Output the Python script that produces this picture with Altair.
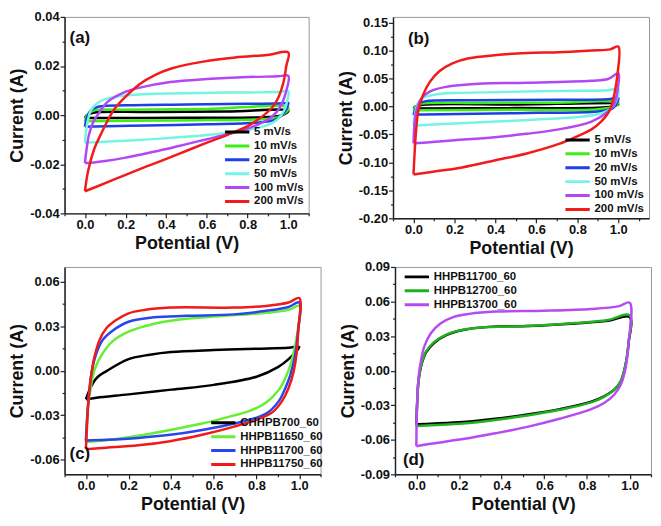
import altair as alt
import pandas as pd

FONT = "Liberation Sans"

# ---------------- Panel (a) ----------------
A_NAMES = ["5 mV/s", "10 mV/s", "20 mV/s", "50 mV/s", "100 mV/s", "200 mV/s"]
A_COLORS = ["#000000", "#3cee14", "#1e3ee8", "#74f4e4", "#b447f4", "#f21a1a"]
A_5 = [(0.0, -0.0012), (0.01, 0.0), (0.04, 0.001), (0.3, 0.0013), (0.7, 0.0015), (1.0, 0.0018),
       (0.97, 0.0), (0.9, -0.0008), (0.5, -0.0011), (0.0, -0.0012)]
A_10 = [(0.0, -0.0025), (0.01, 0.0), (0.04, 0.0018), (0.2, 0.0022), (0.6, 0.0025), (1.0, 0.003),
        (0.98, 0.0005), (0.93, -0.0012), (0.6, -0.002), (0.2, -0.0023), (0.0, -0.0025)]
A_20 = [(0.0, -0.0047), (0.01, -0.001), (0.03, 0.002), (0.07, 0.0035), (0.2, 0.004), (0.5, 0.0043),
        (0.8, 0.0046), (0.98, 0.0048), (1.0, 0.005), (0.99, 0.0025), (0.97, 0.0), (0.93, -0.002),
        (0.85, -0.003), (0.6, -0.0037), (0.3, -0.0042), (0.05, -0.0046), (0.0, -0.0047)]
A_50 = [(0.0, -0.0112), (0.005, -0.007), (0.015, -0.002), (0.03, 0.002), (0.06, 0.0048), (0.1, 0.0065),
        (0.2, 0.008), (0.4, 0.0088), (0.7, 0.0092), (0.95, 0.0094), (1.0, 0.0097), (0.995, 0.006),
        (0.98, 0.002), (0.95, -0.0015), (0.9, -0.004), (0.8, -0.006), (0.6, -0.0081), (0.4, -0.0094),
        (0.2, -0.0104), (0.05, -0.011), (0.0, -0.0112)]
A_100 = [(0.0, -0.0195), (0.008, -0.014), (0.02, -0.008), (0.04, -0.003), (0.07, 0.001), (0.11, 0.0053),
         (0.19, 0.0092), (0.27, 0.0112), (0.42, 0.0135), (0.6, 0.0147), (0.8, 0.0155), (0.95, 0.0158),
         (1.0, 0.016), (0.99, 0.0099), (0.97, 0.005), (0.94, 0.001), (0.9, -0.0018), (0.8, -0.0055),
         (0.7, -0.0078), (0.6, -0.0098), (0.5, -0.0118), (0.4, -0.0138), (0.3, -0.0156), (0.2, -0.0173),
         (0.1, -0.0187), (0.03, -0.0194), (0.0, -0.0195)]
A_200 = [(0.0, -0.031), (0.016, -0.0226), (0.047, -0.0135), (0.079, -0.0077), (0.11, -0.0025),
         (0.142, 0.0021), (0.189, 0.0066), (0.267, 0.0125), (0.346, 0.0164), (0.425, 0.019),
         (0.582, 0.0218), (0.739, 0.0235), (0.896, 0.0245), (1.0, 0.0255), (0.99, 0.02), (0.975, 0.013),
         (0.95, 0.007), (0.92, 0.003), (0.88, 0.0), (0.8, -0.0045), (0.7, -0.008), (0.6, -0.0112),
         (0.5, -0.0145), (0.4, -0.0178), (0.3, -0.021), (0.2, -0.0243), (0.1, -0.0277), (0.0, -0.031)]
A_YTICKS = [-0.04, -0.03, -0.02, -0.01, 0.0, 0.01, 0.02, 0.03, 0.04]

# ---------------- Panel (b) ----------------
B_NAMES = A_NAMES
B_COLORS = A_COLORS
B_5 = [(0.0, -0.0035), (0.01, 0.0), (0.05, 0.003), (0.5, 0.0035), (1.0, 0.004), (0.97, 0.0),
       (0.9, -0.0025), (0.5, -0.003), (0.0, -0.0035)]
B_10 = [(0.0, -0.0068), (0.01, 0.0), (0.04, 0.005), (0.3, 0.0062), (0.7, 0.0066), (1.0, 0.0072),
        (0.98, 0.0), (0.9, -0.005), (0.5, -0.006), (0.0, -0.0068)]
B_20 = [(0.0, -0.015), (0.01, -0.004), (0.025, 0.005), (0.06, 0.0095), (0.3, 0.011), (0.7, 0.012),
        (0.95, 0.013), (1.0, 0.015), (0.99, 0.004), (0.97, -0.004), (0.9, -0.009), (0.6, -0.0115),
        (0.3, -0.013), (0.05, -0.0145), (0.0, -0.015)]
B_50 = [(0.0, -0.034), (0.005, -0.02), (0.012, -0.005), (0.025, 0.008), (0.05, 0.016), (0.1, 0.021),
        (0.2, 0.024), (0.4, 0.0255), (0.6, 0.027), (0.8, 0.028), (0.95, 0.029), (1.0, 0.031),
        (0.995, 0.015), (0.98, 0.003), (0.96, -0.005), (0.9, -0.014), (0.8, -0.019), (0.6, -0.0235),
        (0.4, -0.027), (0.2, -0.0305), (0.05, -0.0333), (0.0, -0.034)]
B_100 = [(0.0, -0.066), (0.008, -0.019), (0.019, -0.0017), (0.04, 0.015), (0.079, 0.0266), (0.158, 0.035),
         (0.316, 0.0407), (0.553, 0.0424), (0.869, 0.046), (0.95, 0.049), (1.0, 0.059), (0.995, 0.0266),
         (0.98, 0.004), (0.948, -0.010), (0.869, -0.027), (0.71, -0.041), (0.55, -0.049), (0.395, -0.055),
         (0.2, -0.0605), (0.079, -0.064), (0.0, -0.066)]
B_200 = [(0.0, -0.1215), (0.005, -0.086), (0.013, -0.041), (0.024, -0.007), (0.047, 0.021), (0.079, 0.0435),
         (0.126, 0.063), (0.19, 0.077), (0.27, 0.086), (0.395, 0.0915), (0.553, 0.0955), (0.71, 0.097),
         (0.87, 0.1), (0.96, 0.102), (1.0, 0.107), (0.995, 0.055), (0.98, 0.021), (0.964, -0.002),
         (0.948, -0.013), (0.916, -0.027), (0.869, -0.041), (0.79, -0.055), (0.71, -0.067), (0.553, -0.084),
         (0.395, -0.0966), (0.237, -0.109), (0.079, -0.1175), (0.0, -0.1215)]
B_YTICKS = [-0.2, -0.175, -0.15, -0.125, -0.1, -0.075, -0.05, -0.025, 0.0, 0.025, 0.05, 0.075, 0.1, 0.125, 0.15]

# ---------------- Panel (c) ----------------
C_NAMES = ["CHHPB700_60", "HHPB11650_60", "HHPB11700_60", "HHPB11750_60"]
C_COLORS = ["#000000", "#66ee33", "#2846ee", "#f01a1a"]
C_700 = [(0.0, -0.0193), (0.02, -0.012), (0.05, -0.005), (0.1, 0.0), (0.2, 0.0078), (0.3, 0.0108),
         (0.4, 0.0126), (0.6, 0.0139), (0.8, 0.0148), (0.95, 0.0155), (1.0, 0.016), (0.95, 0.0078),
         (0.9, 0.0024), (0.8, -0.0041), (0.6, -0.0096), (0.4, -0.0128), (0.2, -0.016), (0.05, -0.0183),
         (0.0, -0.0193)]
C_11650 = [(0.0, -0.048), (0.008, -0.027), (0.02, -0.014), (0.042, 0.0013), (0.08, 0.012), (0.125, 0.0198),
           (0.2, 0.0263), (0.32, 0.0317), (0.47, 0.035), (0.62, 0.0367), (0.845, 0.039), (0.95, 0.041),
           (1.0, 0.0437), (0.995, 0.0296), (0.98, 0.0165), (0.958, 0.0035), (0.935, -0.005), (0.905, -0.0128),
           (0.845, -0.0215), (0.77, -0.027), (0.695, -0.0302), (0.545, -0.0357), (0.395, -0.040),
           (0.245, -0.0439), (0.095, -0.047), (0.0, -0.048)]
C_11700 = [(0.0, -0.0472), (0.012, -0.020), (0.027, -0.001), (0.05, 0.012), (0.08, 0.021), (0.125, 0.027),
           (0.2, 0.033), (0.32, 0.036), (0.47, 0.037), (0.695, 0.038), (0.845, 0.0404), (0.95, 0.043),
           (1.0, 0.046), (0.995, 0.027), (0.98, 0.01), (0.958, -0.003), (0.935, -0.0117), (0.905, -0.0204),
           (0.845, -0.029), (0.695, -0.0357), (0.545, -0.040), (0.395, -0.0433), (0.245, -0.0454),
           (0.095, -0.0467), (0.0, -0.0472)]
C_11750 = [(0.0, -0.053), (0.005, -0.038), (0.012, -0.020), (0.023, -0.005), (0.038, 0.008), (0.065, 0.021),
           (0.095, 0.0285), (0.14, 0.034), (0.2, 0.0387), (0.275, 0.041), (0.395, 0.0426), (0.695, 0.0426),
           (0.845, 0.0437), (0.95, 0.046), (1.0, 0.049), (0.995, 0.027), (0.988, 0.012), (0.973, -0.001),
           (0.95, -0.0117), (0.92, -0.0204), (0.875, -0.028), (0.815, -0.0324), (0.695, -0.0378),
           (0.545, -0.0433), (0.395, -0.0476), (0.245, -0.0504), (0.095, -0.052), (0.0, -0.053)]
C_YTICKS = [-0.06, -0.045, -0.03, -0.015, 0.0, 0.015, 0.03, 0.045, 0.06]

# ---------------- Panel (d) ----------------
D_NAMES = ["HHPB11700_60", "HHPB12700_60", "HHPB13700_60"]
D_COLORS = ["#000000", "#22b022", "#b54cf2"]
D_11700 = [(0.0, -0.0466), (0.005, -0.0235), (0.01, -0.0095), (0.023, 0.0045), (0.045, 0.0157), (0.083, 0.024),
           (0.143, 0.031), (0.219, 0.0353), (0.34, 0.038), (0.52, 0.0387), (0.747, 0.041), (0.897, 0.0432),
           (1.0, 0.0465), (0.995, 0.024), (0.98, 0.0045), (0.958, -0.0095), (0.928, -0.0165), (0.882, -0.022),
           (0.82, -0.0269), (0.671, -0.0334), (0.52, -0.0381), (0.37, -0.0418), (0.219, -0.0446),
           (0.068, -0.046), (0.0, -0.0466)]
D_12700 = [(0.0, -0.048), (0.005, -0.024), (0.01, -0.009), (0.023, 0.005), (0.045, 0.0165), (0.083, 0.0248),
           (0.143, 0.0315), (0.219, 0.0355), (0.34, 0.0378), (0.52, 0.0387), (0.747, 0.0413), (0.897, 0.044),
           (1.0, 0.048), (0.995, 0.025), (0.98, 0.005), (0.958, -0.009), (0.928, -0.0165), (0.882, -0.0225),
           (0.82, -0.0275), (0.671, -0.034), (0.52, -0.039), (0.37, -0.0428), (0.219, -0.0458),
           (0.068, -0.0473), (0.0, -0.048)]
D_13700 = [(0.0, -0.0656), (0.003, -0.032), (0.01, -0.0067), (0.023, 0.010), (0.038, 0.0213), (0.068, 0.0325),
           (0.113, 0.041), (0.173, 0.0465), (0.249, 0.0493), (0.37, 0.0513), (0.6, 0.052), (0.82, 0.0535),
           (0.95, 0.056), (1.0, 0.059), (0.995, 0.024), (0.98, 0.0017), (0.958, -0.0123), (0.928, -0.0207),
           (0.882, -0.0278), (0.82, -0.0334), (0.671, -0.0418), (0.52, -0.0488), (0.37, -0.0544),
           (0.219, -0.0594), (0.068, -0.0634), (0.0, -0.0656)]
D_YTICKS = [-0.09, -0.075, -0.06, -0.045, -0.03, -0.015, 0.0, 0.015, 0.03, 0.045, 0.06, 0.075, 0.09]

X_TICKS = [-0.1, 0.0, 0.1, 0.2, 0.3, 0.4, 0.5, 0.6, 0.7, 0.8, 0.9, 1.0, 1.1]


def frame(names, curves):
    rows = []
    for name, pts in zip(names, curves):
        for k, (v, i) in enumerate(pts):
            rows.append({"s": name, "k": k, "V": v, "I": i})
    return pd.DataFrame(rows)


def major(step):
    return f"abs(round(datum.value/{step})-datum.value/{step})<0.001"


def axis(title, values, step, dec, lo, hi):
    m = major(step)
    return alt.Axis(
        title=title, values=values,
        labelExpr=(f"({m} && datum.value>={lo}-1e-9 && datum.value<={hi}+1e-9) ? "
                   f"((datum.value < -1e-9 ? '-' : '') + format(abs(datum.value), '.{dec}f')) : ''"),
        tickSize={"condition": {"test": f"!({m})", "value": 2.5}, "value": 4.5},
    )


def panel(df, names, colors, xdom, ydom, yticks, ystep, ylo, yhi, w, h, lx, ly, letter, tx, ty):
    lines = alt.Chart(df).mark_line(strokeWidth=2.5, interpolate="catmull-rom").encode(
        x=alt.X("V:Q", scale=alt.Scale(domain=xdom, nice=False, zero=False),
                axis=axis("Potential (V)", X_TICKS, 0.2, 1, 0.0, 1.0)),
        y=alt.Y("I:Q", scale=alt.Scale(domain=ydom, nice=False, zero=False),
                axis=axis("Current (A)", yticks, ystep, 2, ylo, yhi)),
        color=alt.Color("s:N", sort=names, scale=alt.Scale(domain=names, range=colors),
                        legend=alt.Legend(title=None, orient="none", legendX=lx, legendY=ly,
                                          symbolType="stroke", symbolStrokeWidth=3, symbolSize=600,
                                          labelFont=FONT, labelFontSize=11.5, labelFontWeight="bold",
                                          labelColor="#111", clipHeight=14, rowPadding=0,
                                          labelOffset=3, padding=0, offset=0)),
        order=alt.Order("k:Q"),
    )
    lab = alt.Chart(alt.Data(values=[{"t": letter}])).mark_text(
        align="left", baseline="middle", font=FONT, fontSize=17, fontWeight="bold", color="#111"
    ).encode(text="t:N", x=alt.value(tx), y=alt.value(ty))
    return alt.layer(lines, lab).resolve_scale(color="independent").properties(width=w, height=h)


pa = panel(frame(A_NAMES, [A_5, A_10, A_20, A_50, A_100, A_200]), A_NAMES, A_COLORS,
           [-0.1, 1.1], [-0.04, 0.04], A_YTICKS, 0.02, -0.04, 0.04, 246, 198, 160, 109, "(a)", 5, 21)
pb = panel(frame(B_NAMES, [B_5, B_10, B_20, B_50, B_100, B_200]), B_NAMES, B_COLORS,
           [-0.1, 1.15], [-0.2, 0.16], B_YTICKS, 0.05, -0.2, 0.15, 258, 203, 172, 117, "(b)", 15, 22)
pc = panel(frame(C_NAMES, [C_700, C_11650, C_11700, C_11750]), C_NAMES, C_COLORS,
           [-0.1, 1.1], [-0.07, 0.07], C_YTICKS, 0.03, -0.06, 0.06, 258, 209, 146, 150, "(c)", 5, 189)
pd_ = panel(frame(D_NAMES, [D_11700, D_12700, D_13700]), D_NAMES, D_COLORS,
            [-0.1, 1.1], [-0.09, 0.09], D_YTICKS, 0.03, -0.09, 0.09, 258, 209, 8, 3, "(d)", 8, 195)

row1 = alt.hconcat(pa, pb, spacing=26).resolve_scale(x="independent", y="independent", color="independent")
row2 = alt.hconcat(pc, pd_, spacing=14).resolve_scale(x="independent", y="independent", color="independent")

chart = alt.vconcat(row1, row2, spacing=2).resolve_scale(
    x="independent", y="independent", color="independent"
).properties(padding=0, background="white").configure_view(
    stroke="#999999", strokeWidth=1
).configure_axis(
    labelFont=FONT, labelFontSize=13, labelFontWeight="bold", labelColor="#111",
    titleFont=FONT, titleFontSize=18, titleFontWeight="bold", titleColor="#111",
    domainColor="#222", domainWidth=1.5, tickColor="#222", tickWidth=1.2, grid=False,
    labelPadding=1, titlePadding=3,
)

chart.save("out.html", embed_options={"renderer": "svg", "actions": False})
